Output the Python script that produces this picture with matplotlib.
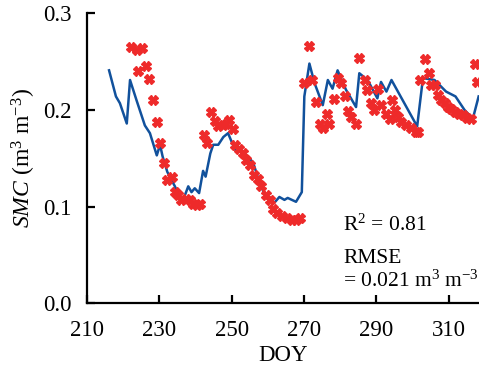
import matplotlib
matplotlib.use("Agg")
import matplotlib.pyplot as plt

# simulated soil moisture (line)
sim_doy = [216.1, 218.0, 219.1, 221.0, 221.9, 223.7, 226.0, 227.4, 229.3, 230.2,
           230.9, 232.2, 234.3, 235.7, 236.6, 238.0, 238.9, 239.8, 241.0, 242.1,
           242.8, 244.1, 244.9, 246.3, 247.7, 249.0, 250.9, 252.3, 253.5, 255.9,
           257.8, 259.2, 261.8, 263.2, 264.6, 265.5, 267.8, 269.4, 270.1, 271.5,
           272.9, 275.2, 276.6, 277.9, 279.3, 281.6, 284.4, 285.3, 287.6, 290.3,
           291.3, 292.8, 294.2, 301.3, 302.9, 306.1, 309.3, 311.9, 314.4, 316.7,
           318.3]
sim_smc = [0.241, 0.214, 0.207, 0.186, 0.231, 0.210, 0.184, 0.176, 0.153, 0.164,
           0.152, 0.136, 0.121, 0.110, 0.107, 0.121, 0.115, 0.119, 0.114, 0.137,
           0.131, 0.155, 0.164, 0.164, 0.172, 0.176, 0.159, 0.157, 0.155, 0.146,
           0.124, 0.112, 0.104, 0.110, 0.107, 0.109, 0.105, 0.115, 0.214, 0.248,
           0.228, 0.205, 0.231, 0.222, 0.241, 0.221, 0.203, 0.238, 0.231, 0.212,
           0.229, 0.219, 0.231, 0.183, 0.233, 0.231, 0.219, 0.214, 0.200, 0.191,
           0.214]

# measured soil moisture (markers)
obs_doy = [222.3, 223.7, 224.2, 225.1, 226.3, 227.2, 228.3, 229.3, 230.2, 231.4,
           232.2, 233.4, 234.3, 235.2, 236.1, 237.3, 238.4, 239.4, 240.3, 241.2,
           242.3, 243.3, 244.2, 245.4, 246.3, 247.5, 248.4, 249.3, 250.4, 250.9,
           252.1, 253.2, 254.1, 255.2, 256.1, 257.3, 258.2, 259.4, 260.5, 261.5,
           262.5, 263.8, 265.2, 266.6, 267.8, 269.0,
           269.9, 271.3, 272.1, 273.3, 274.3, 275.2, 276.4, 277.0, 278.2, 279.3,
           280.2, 281.4, 282.2, 283.0, 284.3, 285.1, 286.8, 287.4, 288.6, 289.5,
           290.5, 291.4, 292.8, 293.7, 294.4, 295.1, 296.0, 296.9, 298.3, 299.7,
           300.9, 301.5, 302.2, 303.4, 304.6, 305.2, 306.1, 307.1, 308.0, 308.9,
           309.8, 310.7, 311.9, 313.0, 313.9, 315.0, 316.2, 317.2, 317.8]
obs_smc = [0.265, 0.262, 0.240, 0.264, 0.246, 0.232, 0.210, 0.188, 0.166, 0.145,
           0.128, 0.131, 0.115, 0.112, 0.107, 0.108, 0.107, 0.103, 0.102, 0.103,
           0.174, 0.166, 0.198, 0.189, 0.183, 0.184, 0.186, 0.190, 0.180, 0.164,
           0.160, 0.155, 0.148, 0.143, 0.133, 0.129, 0.121, 0.112, 0.107, 0.098,
           0.093, 0.090, 0.088, 0.086, 0.086, 0.088,
           0.228, 0.266, 0.231, 0.208, 0.185, 0.181, 0.196, 0.185, 0.211, 0.233,
           0.228, 0.214, 0.199, 0.193, 0.185, 0.254, 0.231, 0.221, 0.207, 0.200,
           0.222, 0.205, 0.196, 0.191, 0.210, 0.200, 0.193, 0.188, 0.184, 0.181,
           0.177, 0.177, 0.231, 0.253, 0.238, 0.226, 0.226, 0.215, 0.210, 0.207,
           0.203, 0.201, 0.198, 0.196, 0.195, 0.192, 0.191, 0.248, 0.229]

plt.rcParams['font.family'] = ['Liberation Serif', 'DejaVu Serif']
plt.rcParams['mathtext.fontset'] = 'custom'
plt.rcParams['mathtext.rm'] = 'Liberation Serif'
plt.rcParams['mathtext.it'] = 'Liberation Serif:italic'

fig = plt.figure(figsize=(4.79, 3.70), dpi=100)
ax = fig.add_axes([87 / 479, 1 - 303.3 / 370, 1 - 87 / 479, 290 / 370])

ax.plot(sim_doy, sim_smc, color='#11519c', lw=1.8, zorder=2)
ax.plot(obs_doy, obs_smc, ls='none', marker='X', ms=7, color='#ee2a2a',
        mec='#ee2a2a', zorder=3, clip_on=False)

ax.set_xlim(210, 318.4)
ax.set_ylim(0, 0.3)
ax.set_xticks([210, 230, 250, 270, 290, 310])
ax.set_yticks([0.0, 0.1, 0.2, 0.3])
ax.set_yticklabels(['0.0', '0.1', '0.2', '0.3'])

for s in ['top', 'right']:
    ax.spines[s].set_visible(False)
for s in ['left', 'bottom']:
    ax.spines[s].set_linewidth(1.6)
ax.tick_params(direction='in', length=6, width=1.6, labelsize=16.5)
ax.tick_params(axis='y', pad=11)
ax.tick_params(axis='x', pad=12)

ax.set_xlabel('DOY', fontsize=16.5, labelpad=3)
ax.set_ylabel(r'$\mathit{SMC}$ (m$^3$ m$^{-3}$)', fontsize=17, labelpad=4)

ax.text(0.653, 0.249, r'R$^2$ = 0.81', transform=ax.transAxes, fontsize=15.5)
ax.text(0.653, 0.139, 'RMSE', transform=ax.transAxes, fontsize=15.5)
ax.text(0.653, 0.057, r'= 0.021 m$^3$ m$^{-3}$', transform=ax.transAxes, fontsize=15.5)

fig.savefig('out.png', dpi=100)
